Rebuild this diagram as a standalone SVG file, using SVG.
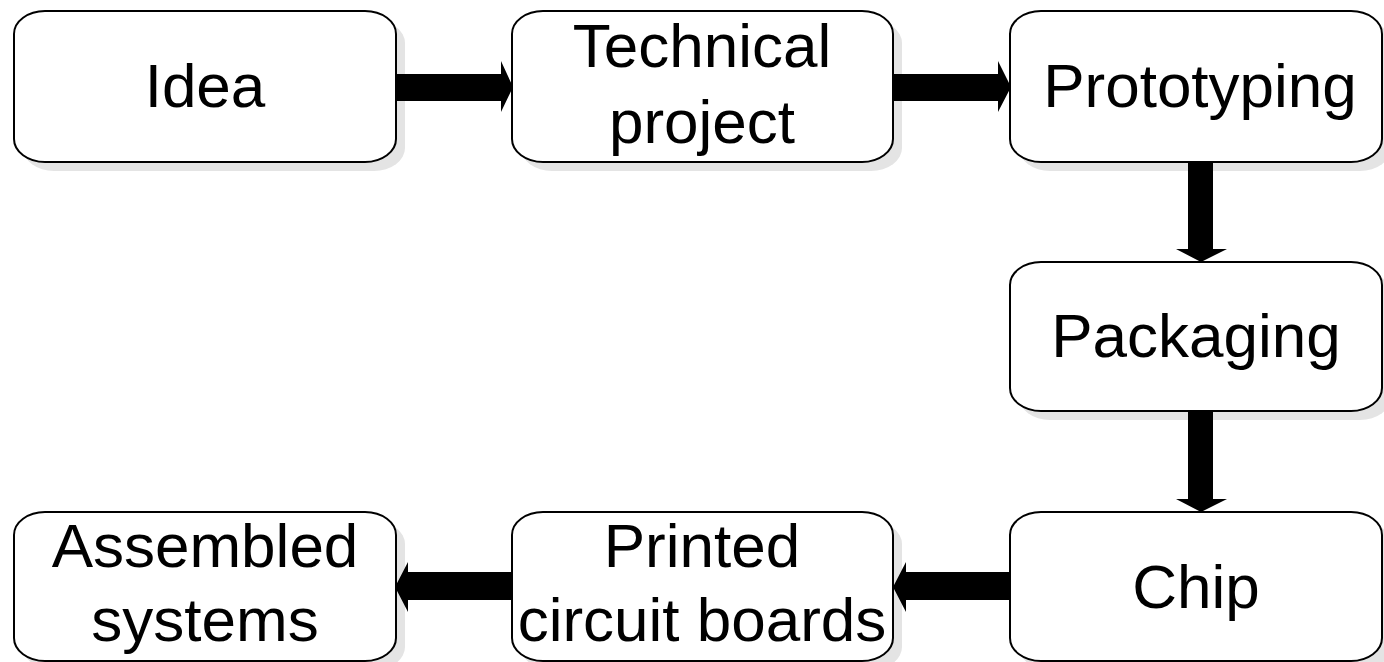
<svg xmlns="http://www.w3.org/2000/svg" width="1384" height="662" viewBox="0 0 1384 662">
  <style>
    .shadow { fill: #e4e4e4; stroke: none; }
    .box { fill: #ffffff; stroke: #000000; stroke-width: 2; }
    .label { font-family: "Liberation Sans", Arial, sans-serif; font-size: 62px; fill: #000000; text-anchor: middle; }
    .arrow { fill: #000000; stroke: none; }
  </style>
  <rect width="1384" height="662" fill="#ffffff"/>

  <!-- process steps -->
  <g id="idea">
    <rect class="shadow" x="23" y="20" width="382" height="151" rx="31" ry="23"/>
    <rect class="box" x="14" y="11" width="382" height="151" rx="31" ry="23"/>
    <text class="label" x="205" y="107">Idea</text>
  </g>
  <g id="technical-project">
    <rect class="shadow" x="521" y="20" width="381" height="151" rx="31" ry="23"/>
    <rect class="box" x="512" y="11" width="381" height="151" rx="31" ry="23"/>
    <text class="label" x="702" y="67">Technical</text>
    <text class="label" x="702" y="143">project</text>
  </g>
  <g id="prototyping">
    <rect class="shadow" x="1019" y="20" width="372" height="151" rx="31" ry="23"/>
    <rect class="box" x="1010" y="11" width="372" height="151" rx="31" ry="23"/>
    <text class="label" x="1200" y="107">Prototyping</text>
  </g>
  <g id="packaging">
    <rect class="shadow" x="1019" y="271" width="372" height="149" rx="31" ry="23"/>
    <rect class="box" x="1010" y="262" width="372" height="149" rx="31" ry="23"/>
    <text class="label" x="1196" y="357">Packaging</text>
  </g>
  <g id="chip">
    <rect class="shadow" x="1019" y="521" width="372" height="149" rx="31" ry="23"/>
    <rect class="box" x="1010" y="512" width="372" height="149" rx="31" ry="23"/>
    <text class="label" x="1196" y="608">Chip</text>
  </g>
  <g id="printed-circuit-boards">
    <rect class="shadow" x="521" y="521" width="381" height="149" rx="31" ry="23"/>
    <rect class="box" x="512" y="512" width="381" height="149" rx="31" ry="23"/>
    <text class="label" x="702" y="567">Printed</text>
    <text class="label" x="702" y="641">circuit boards</text>
  </g>
  <g id="assembled-systems">
    <rect class="shadow" x="23" y="521" width="382" height="149" rx="31" ry="23"/>
    <rect class="box" x="14" y="512" width="382" height="149" rx="31" ry="23"/>
    <text class="label" x="205" y="567">Assembled</text>
    <text class="label" x="205" y="641">systems</text>
  </g>

  <!-- block arrows between steps -->
  <g id="connectors">
    <polygon class="arrow" points="396,74 501,74 501,61 513,87 501,112 501,101 396,101"/>
    <polygon class="arrow" points="893,74 998,74 998,61 1011,87 998,112 998,101 893,101"/>
    <polygon class="arrow" points="1188,162 1213,162 1213,249 1227,249 1201,262 1176,249 1188,249"/>
    <polygon class="arrow" points="1188,411 1213,411 1213,499 1227,499 1201,512 1176,499 1188,499"/>
    <polygon class="arrow" points="1010,572 906,572 906,562 893,587 906,612 906,600 1010,600"/>
    <polygon class="arrow" points="512,572 408,572 408,562 395,587 408,612 408,600 512,600"/>
  </g>
</svg>
